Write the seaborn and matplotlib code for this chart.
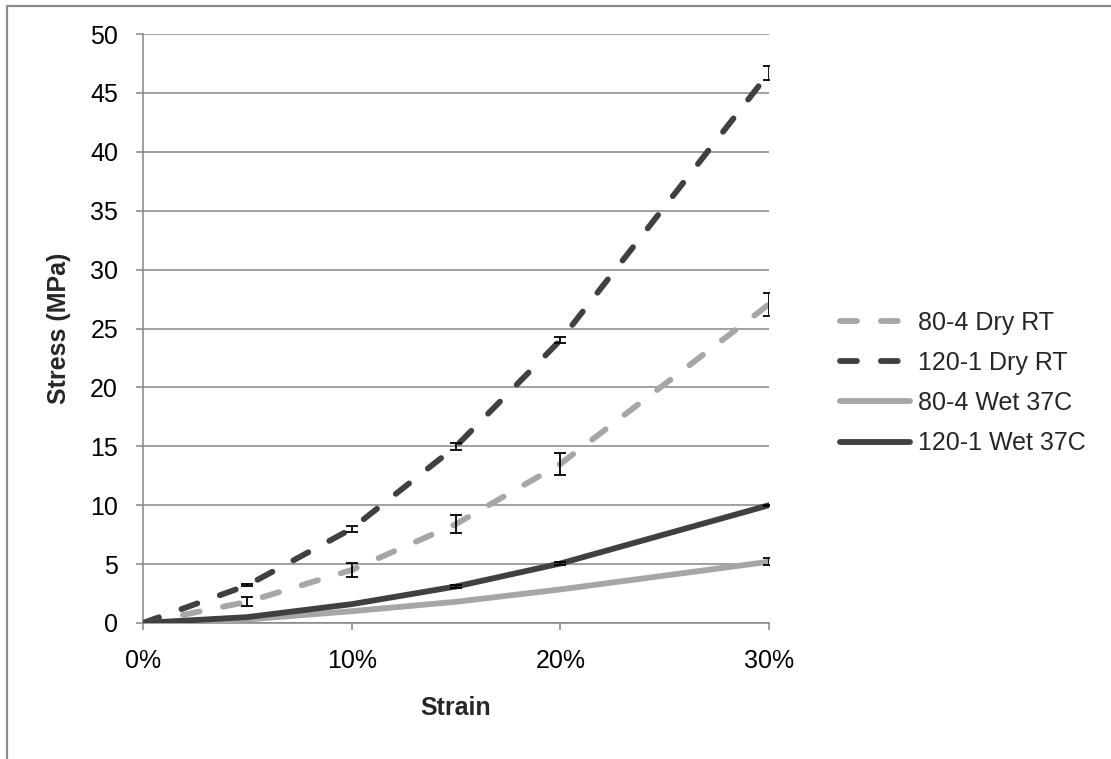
import matplotlib
matplotlib.use("Agg")
import matplotlib.pyplot as plt
import seaborn as sns
import pandas as pd
import numpy as np
from matplotlib.ticker import PercentFormatter
from matplotlib.lines import Line2D

# ---- data ----
strain = [0.00, 0.05, 0.10, 0.15, 0.20, 0.30]
series_names = ["80-4 Dry RT", "120-1 Dry RT", "80-4 Wet 37C", "120-1 Wet 37C"]
dry80 = [0.0, 1.8, 4.5, 8.4, 13.5, 27.05]
dry80_err = [0.0, 0.38, 0.6, 0.8, 0.9, 0.95]
dry120 = [0.0, 3.2, 8.0, 15.0, 24.0, 46.7]
dry120_err = [0.0, 0.1, 0.25, 0.3, 0.25, 0.6]
wet80 = [0.0, 0.3, 1.0, 1.8, 2.85, 5.2]
wet80_err = [0.0, 0.0, 0.0, 0.0, 0.0, 0.3]
wet120 = [0.0, 0.5, 1.6, 3.1, 5.05, 10.0]
wet120_err = [0.0, 0.0, 0.0, 0.1, 0.15, 0.03]
x_ticks = [0.0, 0.10, 0.20, 0.30]
y_ticks = list(range(0, 51, 5))

values = [dry80, dry120, wet80, wet120]
errors = [dry80_err, dry120_err, wet80_err, wet120_err]
colors = ["#A6A6A6", "#404040", "#A6A6A6", "#404040"]
dashed = [True, True, False, False]

sns.set_theme(style="white")
plt.rcParams["font.family"] = ["Liberation Sans", "DejaVu Sans"]

fig = plt.figure(figsize=(11.11, 7.59), dpi=100)
ax = fig.add_axes([143 / 1111, 1 - 623 / 759, (769 - 143) / 1111, (623 - 34) / 759])

grid_c = "#868686"
for name, vals, errs, c, d in zip(series_names, values, errors, colors, dashed):
    df = pd.DataFrame({"strain": strain, "stress": vals})
    kw = dict(linewidth=4.2, color=c, solid_capstyle="round", dash_capstyle="round")
    if d:
        kw["linestyle"] = (0, (2.9, 4.1))
    sns.lineplot(data=df, x="strain", y="stress", ax=ax, label=name, zorder=3, **kw)
    e = np.array(errs)
    mask = e > 0
    ax.errorbar(np.array(strain)[mask], np.array(vals)[mask], yerr=e[mask], fmt="none",
                ecolor="black", elinewidth=1.3, capsize=4.3, capthick=1.3, zorder=5)

ax.set_xlim(0, 0.30)
ax.set_ylim(0, 50)
ax.set_xticks(x_ticks)
ax.set_yticks(y_ticks)
ax.xaxis.set_major_formatter(PercentFormatter(1.0, decimals=0))
ax.yaxis.grid(True, color=grid_c, linewidth=1.1)
ax.xaxis.grid(False)
for s in ["top", "right"]:
    ax.spines[s].set_visible(False)
for s in ["left", "bottom"]:
    ax.spines[s].set_color(grid_c)
    ax.spines[s].set_linewidth(1.1)
ax.tick_params(axis="both", which="major", direction="out", length=5, width=1.1,
               color=grid_c, labelsize=18, labelcolor="black")
ax.tick_params(axis="y", pad=13, left=True)
ax.tick_params(axis="x", pad=14, bottom=True)
ax.set_xlabel("Strain", fontsize=18, fontweight="bold", labelpad=16)
ax.set_ylabel("Stress (MPa)", fontsize=18, fontweight="bold", labelpad=14)

leg = ax.legend(loc="center left", bbox_to_anchor=(840 / 1111, 1 - 383 / 759),
                bbox_transform=fig.transFigure, frameon=False, fontsize=18,
                handlelength=2.8, handletextpad=0.3, labelspacing=0.65,
                borderpad=0, borderaxespad=0)

# figure border (left and top only visible)
fig.add_artist(Line2D([6.5 / 1111, 6.5 / 1111], [0, 1 - 5.5 / 759], transform=fig.transFigure,
                      color="#8C8C8C", linewidth=1.6))
fig.add_artist(Line2D([6.5 / 1111, 1], [1 - 5.5 / 759, 1 - 5.5 / 759], transform=fig.transFigure,
                      color="#8C8C8C", linewidth=1.6))

fig.savefig("out.png", dpi=100)
